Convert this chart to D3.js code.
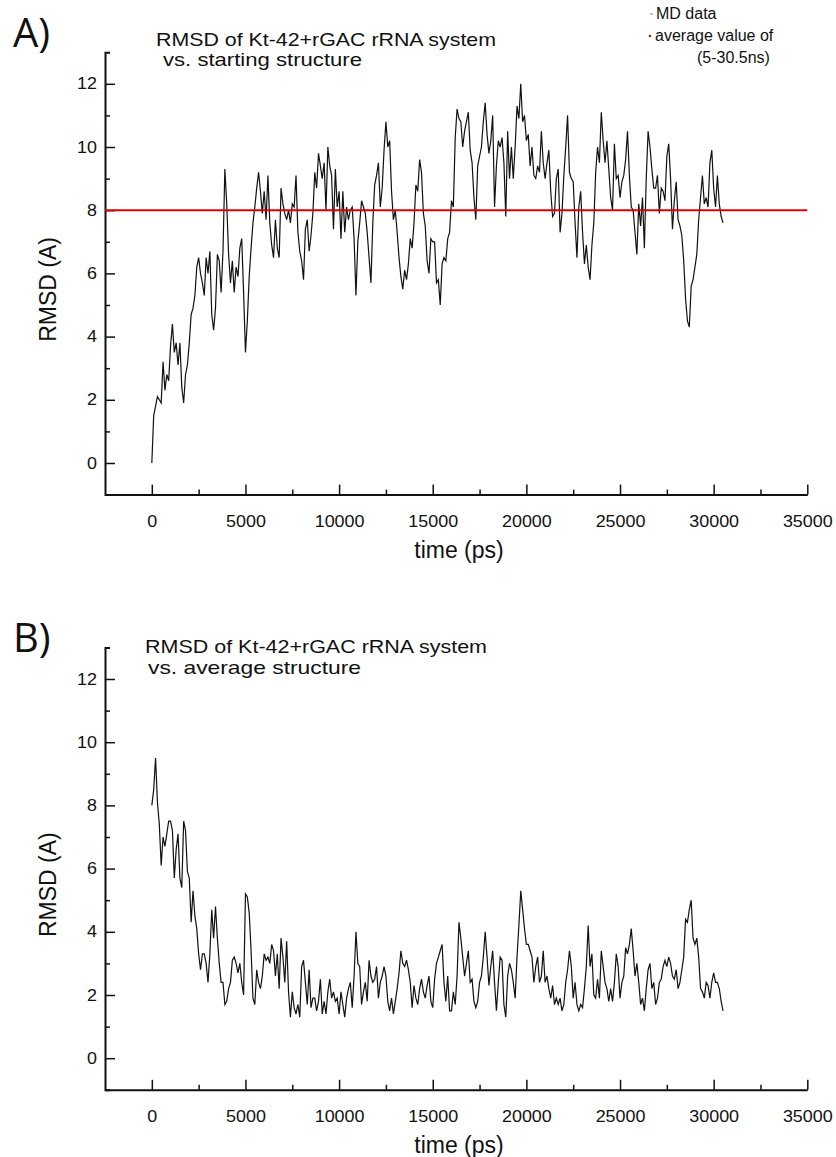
<!DOCTYPE html>
<html>
<head>
<meta charset="utf-8">
<script src="https://cdn.jsdelivr.net/npm/d3@7"></script>
<style>
  body { margin: 0; background: #fff; }
  svg text { font-family: "Liberation Sans", Arial, sans-serif; fill: #111; }
</style>
</head>
<body>
<div id="d3-container"></div>
<script>
/* CONSTANTS AND GLOBALS */
const width = 836, height = 1157;
const stepPs = 100; // one frame every 100 ps
const averageValue = 8.0; // mean RMSD over 5-30.5 ns
const stretch = 1.12; // the figure's lettering is a bit wide

const xTicks = [0, 5000, 10000, 15000, 20000, 25000, 30000, 35000];
const xMinorTicks = [2500, 7500, 12500, 17500, 22500, 27500, 32500];
const yTicks = [0, 2, 4, 6, 8, 10, 12];
const yMinorTicks = [1, 3, 5, 7, 9, 11];

// RMSD vs. starting structure (A), frames 0 .. 30500 ps
const rmsdStart = [
  0.0, 1.5, 1.8, 2.1, 2.0, 1.9, 3.2, 2.3, 2.8, 2.6,
  3.7, 4.4, 3.5, 3.8, 3.1, 3.8, 2.4, 1.9, 2.8, 3.1,
  3.8, 4.7, 4.9, 5.3, 6.2, 6.5, 6.0, 5.7, 5.3, 6.5,
  6.0, 6.7, 4.7, 4.2, 4.9, 6.6, 6.4, 5.4, 6.7, 9.3,
  8.2, 6.6, 5.7, 6.4, 5.4, 6.2, 5.9, 6.8, 7.1, 5.4,
  3.5, 4.5, 5.9, 6.8, 7.6, 8.1, 8.7, 9.2, 8.6, 7.9,
  8.6, 7.7, 9.1, 7.6, 6.9, 6.5, 7.7, 6.8, 6.5, 8.7,
  8.2, 7.9, 7.7, 8.0, 7.6, 8.2, 8.1, 9.1, 7.3, 6.7,
  6.4, 5.8, 7.4, 7.7, 6.7, 7.2, 7.9, 9.2, 8.7, 9.8,
  9.4, 9.0, 9.5, 8.0, 10.0, 9.4, 9.1, 7.4, 9.3, 8.1,
  8.6, 7.1, 8.6, 7.3, 8.1, 7.7, 8.0, 8.1, 7.1, 5.3,
  7.0, 7.6, 8.3, 8.1, 7.9, 7.3, 6.5, 5.7, 7.6, 8.8,
  9.1, 9.5, 8.1, 8.7, 9.9, 10.8, 10.0, 10.2, 8.6, 7.7,
  8.0, 7.3, 6.5, 5.9, 5.5, 6.1, 5.8, 6.3, 7.1, 6.8,
  7.6, 8.8, 8.6, 9.6, 9.2, 7.9, 7.5, 6.4, 6.0, 7.1,
  7.0,
  7.0, 5.7, 5.8, 5.0, 6.3, 6.5, 6.4, 7.1, 7.3, 8.3,
  8.1, 10.3, 11.2, 10.9, 10.8, 10.0, 10.5, 10.8, 11.1, 9.9,
  9.5, 8.4, 7.7, 9.4, 9.7, 10.0, 10.8, 11.4, 10.4, 9.8,
  10.2, 11.0, 8.1, 9.4, 10.2, 10.0, 10.3, 9.5, 7.8, 10.5,
  9.0, 10.0, 9.0, 10.0, 11.3, 10.9, 12.0, 10.8, 11.0, 10.2,
  10.4, 9.4, 10.0, 9.1, 9.0, 9.4, 9.2, 10.5, 9.5, 9.0,
  9.5, 9.9, 8.6, 7.8, 7.9, 9.0, 9.3, 7.3, 7.9, 9.1,
  10.0, 11.0, 9.2, 9.0, 8.9, 7.6, 6.5, 8.1, 8.6, 7.3,
  6.3, 6.9, 6.2, 5.8, 6.9, 7.6, 9.2, 10.0, 9.5, 11.1,
  10.2, 9.5, 10.2, 9.3, 8.4, 8.0, 10.1, 9.0, 9.1, 8.4,
  8.9, 9.1, 9.6, 10.5, 9.1, 8.1, 8.0, 7.3, 6.6, 8.2,
  7.5, 8.4, 6.8, 9.0, 10.5, 10.0, 9.3, 8.7, 8.7, 9.1,
  7.9, 8.7, 8.6, 8.3, 9.7, 10.1, 9.0, 7.4, 8.3, 8.9,
  7.7, 7.5, 7.2, 6.4, 5.2, 4.5, 4.3, 5.6, 5.8, 6.2,
  6.6, 7.7, 8.4, 9.1, 8.2, 8.4, 8.1, 9.5, 9.9, 8.7,
  8.1, 9.1, 8.2, 7.8, 7.6
];

// RMSD vs. average structure (B)
const rmsdAverage = [
  8.0, 8.5, 9.5, 8.1, 7.4, 6.1, 7.0, 6.7, 7.1, 7.5,
  7.5, 7.2, 5.7, 6.6, 7.1, 5.7, 5.4, 7.5, 7.2, 5.9,
  5.7, 4.3, 5.3, 4.5, 4.1, 3.3, 2.8, 3.3, 3.3, 3.0,
  2.4, 3.3, 4.7, 3.8, 4.8, 3.8, 3.0, 2.4, 2.4, 1.7,
  1.8, 2.2, 2.4, 3.1, 3.2, 3.0, 2.7, 3.0, 2.4, 2.0,
  5.2, 5.1, 4.6, 3.4, 1.9, 1.7, 2.8, 2.4, 2.2, 2.6,
  3.3, 3.1, 3.2, 3.0, 3.6, 3.4, 2.6, 3.3, 2.2, 3.8,
  3.2, 2.4, 3.7, 2.1, 1.3, 2.1, 1.6, 1.4, 1.7, 1.3,
  2.9, 3.1, 2.4, 1.7, 2.8, 1.6, 1.9, 1.9, 1.5, 1.8,
  2.5, 1.4, 1.8, 1.4, 2.1, 2.5, 1.9, 2.1, 1.8, 1.9,
  1.4, 2.1, 1.7, 1.3, 1.9, 2.2, 2.4, 1.6, 2.6, 4.0,
  3.0, 2.9, 1.7, 2.1, 2.4, 1.8, 3.1, 2.6, 2.4, 2.5,
  2.9, 1.9, 2.4, 2.6, 2.9, 2.6, 1.8, 1.5, 1.9, 1.4,
  1.8, 2.2, 2.7, 3.4, 3.0, 2.9, 3.1, 2.8, 2.4, 1.6,
  2.3, 1.9, 1.7, 2.2, 2.5, 2.1, 1.9, 2.3, 2.6, 1.8,
  1.6,
  2.5, 3.0, 3.2, 3.4, 3.6, 2.4, 1.8, 2.6, 1.5, 1.5,
  2.1, 1.7, 2.6, 4.3, 3.8, 3.2, 2.6, 3.0, 3.4, 2.4,
  2.5, 1.8, 1.6, 1.8, 2.4, 2.6, 3.2, 4.0, 3.2, 2.3,
  2.9, 3.4, 2.4, 1.5, 2.4, 3.2, 3.1, 1.7, 1.3, 2.6,
  3.0, 2.8, 2.4, 1.9, 3.2, 4.2, 5.3, 4.7, 4.1, 3.6,
  3.6, 3.4, 3.2, 2.4, 2.9, 3.2, 2.4, 2.6, 3.4, 2.4,
  2.6, 2.2, 1.9, 2.3, 1.7, 1.9, 1.7, 1.9, 1.5, 1.7,
  2.4, 2.8, 3.4, 2.9, 1.9, 2.4, 1.7, 1.5, 1.7, 1.6,
  2.2, 2.9, 4.2, 2.9, 3.3, 2.0, 1.9, 2.5, 1.9, 3.4,
  2.9, 2.4, 2.2, 1.8, 2.2, 1.8, 2.4, 3.3, 2.9, 1.9,
  2.4, 2.6, 3.5, 3.3, 3.6, 4.1, 3.4, 2.6, 3.0, 2.4,
  1.7, 1.9, 1.5, 2.2, 2.8, 3.0, 2.2, 2.4, 1.7, 1.9,
  2.4, 2.5, 2.9, 3.1, 2.9, 3.2, 3.0, 2.6, 2.5, 2.8,
  2.2, 2.4, 2.8, 3.2, 4.4, 4.3, 4.7, 5.0, 3.8, 3.6,
  3.8, 3.2, 2.2, 2.1, 1.9, 2.4, 2.3, 1.9, 2.4, 2.7,
  2.4, 2.4, 2.2, 1.8, 1.5
];

const panels = [
  { label: "A)", labelY: 47, title: ["RMSD of Kt-42+rGAC rRNA system", "vs. starting structure"],
    titleX: [156, 163], titleY: [46, 66], titleW: [340, 199], top: 52.2, bottom: 494.6,
    values: rmsdStart, showAverage: true },
  { label: "B)", labelY: 652, title: ["RMSD of Kt-42+rGAC rRNA system", "vs. average structure"],
    titleX: [145, 148], titleY: [653, 674], titleW: [342, 213], top: 647.4, bottom: 1089.8,
    values: rmsdAverage, showAverage: false }
];

const svg = d3.select("#d3-container")
  .append("svg")
  .attr("width", width)
  .attr("height", height);

const xScale = d3.scaleLinear()
  .domain([-2500, 35000])
  .range([105, 807.3]);

panels.forEach(p => {
  const yScale = d3.scaleLinear()
    .domain([-1, 13])
    .range([p.bottom, p.top]);

  const g = svg.append("g");

  // minor ticks first so the main axis lines sit on top
  g.append("g")
    .attr("transform", `translate(${xScale.range()[0]},0)`)
    .call(d3.axisLeft(yScale).tickValues(yMinorTicks).tickSize(-5).tickFormat(""))
    .call(a => a.select(".domain").remove());

  g.append("g")
    .attr("transform", `translate(0,${p.bottom})`)
    .call(d3.axisBottom(xScale).tickValues(xMinorTicks).tickSize(-5).tickFormat(""))
    .call(a => a.select(".domain").remove());

  const yAxisGroup = g.append("g")
    .attr("transform", `translate(${xScale.range()[0]},0)`)
    .call(d3.axisLeft(yScale).tickValues(yTicks).tickFormat(d3.format("d"))
      .tickSizeInner(-10).tickSizeOuter(-5).tickPadding(8));

  const xAxisGroup = g.append("g")
    .attr("transform", `translate(0,${p.bottom})`)
    .call(d3.axisBottom(xScale).tickValues(xTicks).tickFormat(d3.format("d"))
      .tickSizeInner(-10).tickSizeOuter(0).tickPadding(21));

  g.selectAll(".domain").attr("stroke", "#111").attr("stroke-width", 2);
  g.selectAll(".tick line").attr("stroke", "#111").attr("stroke-width", 1.5);
  g.selectAll(".tick text").attr("font-size", 16).attr("fill", "#111")
    .style("font-family", '"Liberation Sans", Arial, sans-serif');

  // widen the tick labels a little, keeping their anchor point
  yAxisGroup.selectAll(".tick text")
    .attr("x", 0)
    .attr("transform", `translate(-8,0) scale(${stretch},1)`);
  xAxisGroup.selectAll(".tick text")
    .attr("y", 0)
    .attr("transform", `translate(0,21) scale(${stretch},1)`);

  // axis titles
  g.append("text")
    .attr("transform", `translate(48,${(p.top + p.bottom) / 2 + 16}) rotate(-90)`)
    .attr("text-anchor", "middle")
    .attr("dy", "0.35em")
    .attr("font-size", 23)
    .text("RMSD (A)");

  g.append("text")
    .attr("x", 459)
    .attr("y", p.bottom + 63)
    .attr("text-anchor", "middle")
    .attr("font-size", 23)
    .text("time (ps)");

  // panel letter
  g.append("text")
    .attr("x", 13)
    .attr("y", p.labelY)
    .attr("font-size", 40)
    .style("font-family", '"Open Sans", sans-serif')
    .text(p.label);

  // panel title
  g.selectAll(".ptitle")
    .data(p.title)
    .join("text")
    .attr("class", "ptitle")
    .attr("x", (d, i) => p.titleX[i])
    .attr("y", (d, i) => p.titleY[i])
    .attr("font-size", 18.5)
    .attr("textLength", (d, i) => p.titleW[i])
    .attr("lengthAdjust", "spacingAndGlyphs")
    .text(d => d);

  const lineGen = d3.line()
    .x((d, i) => xScale(i * stepPs))
    .y(d => yScale(d));

  g.append("path")
    .datum(p.values)
    .attr("fill", "none")
    .attr("stroke", "#111")
    .attr("stroke-width", 1.2)
    .attr("d", lineGen);

  if (p.showAverage) {
    g.append("line")
      .attr("x1", xScale.range()[0])
      .attr("x2", xScale.range()[1])
      .attr("y1", yScale(averageValue))
      .attr("y2", yScale(averageValue))
      .attr("stroke", "#dd0000")
      .attr("stroke-width", 2);
  }
});

// legend (panel A only)
const legend = svg.append("g").attr("font-size", 16);
legend.append("line")
  .attr("x1", 650).attr("x2", 653).attr("y1", 14).attr("y2", 14)
  .attr("stroke", "#888").attr("stroke-width", 1);
legend.append("text").attr("x", 656).attr("y", 19).text("MD data");
legend.append("circle")
  .attr("cx", 650).attr("cy", 36).attr("r", 1.2).attr("fill", "#dd0000");
legend.append("text").attr("x", 655).attr("y", 41).text("average value of");
legend.append("text").attr("x", 697).attr("y", 63).text("(5-30.5ns)");
</script>
</body>
</html>
